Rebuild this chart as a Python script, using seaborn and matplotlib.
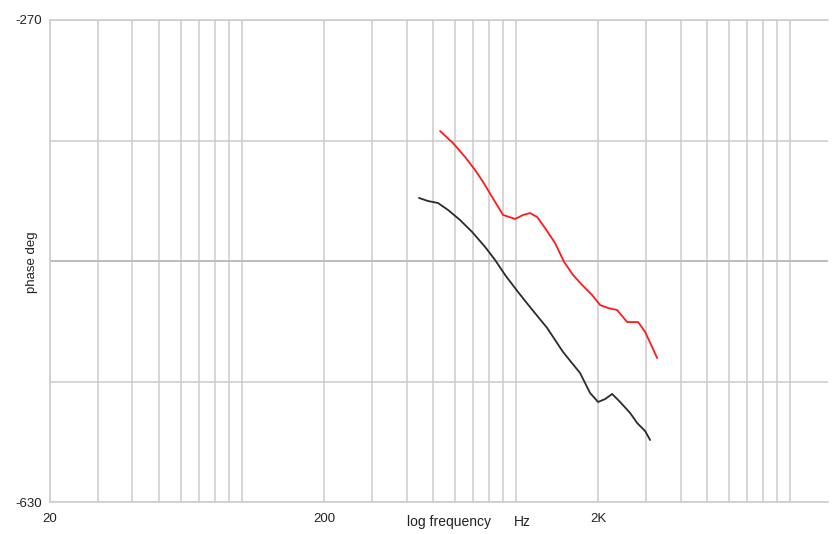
import matplotlib
matplotlib.use("Agg")
import matplotlib.pyplot as plt
import seaborn as sns
import pandas as pd
import numpy as np

# ---- data ----
red_freq = [530, 591, 654, 711, 761, 821, 900, 996, 1065, 1129, 1198, 1281, 1393,
            1503, 1621, 1749, 1902, 2034, 2175, 2346, 2552, 2800, 2969, 3148, 3284]
red_phase = [-352.9, -361.9, -372.3, -382.0, -391.0, -402.2, -415.6, -418.6, -415.6,
             -414.2, -417.1, -425.4, -436.6, -450.7, -460.5, -467.9, -475.4, -482.9,
             -485.1, -486.6, -495.6, -495.6, -503.0, -514.2, -522.5]

black_freq = [444, 479, 521, 567, 627, 694, 774, 842, 916, 1021, 1129, 1303, 1490,
              1719, 1870, 2000, 2122, 2250, 2406, 2617, 2776, 2969, 3096]
black_phase = [-402.9, -405.2, -406.7, -411.9, -419.4, -428.3, -439.5, -449.3, -460.5,
               -473.2, -484.4, -500.0, -518.0, -533.7, -548.6, -555.3, -553.1, -549.3,
               -555.3, -563.5, -571.0, -577.0, -583.7]

y_ticks = [-630, -540, -450, -360, -270]
y_tick_labels = ["-630", "", "", "", "-270"]
x_major = [20, 200, 2000]
x_major_labels = ["20", "200", "2K"]
x_minor = [30, 40, 50, 60, 70, 80, 90, 100,
           300, 400, 500, 600, 700, 800, 900, 1000,
           3000, 4000, 5000, 6000, 7000, 8000, 9000, 10000]

df = pd.concat([
    pd.DataFrame({"freq": red_freq, "phase": red_phase, "series": "red"}),
    pd.DataFrame({"freq": black_freq, "phase": black_phase, "series": "black"}),
], ignore_index=True)

sns.set_theme(style="white")
plt.rcParams["font.family"] = ["Liberation Sans", "DejaVu Sans"]

fig = plt.figure(figsize=(8.34, 5.34), dpi=100)
ax = fig.add_axes([50 / 834, 1 - 502 / 534, 778 / 834, 482 / 534])

grid_c = "#cbcbcb"
ax.set_xscale("log")
ax.set_xlim(20, 13800)
ax.set_ylim(-630, -270)

ax.set_xticks(x_major)
ax.set_xticklabels(x_major_labels)
ax.set_xticks(x_minor, minor=True)
ax.xaxis.set_minor_formatter(matplotlib.ticker.NullFormatter())
ax.set_yticks(y_ticks)
ax.set_yticklabels(y_tick_labels)

ax.grid(True, which="both", axis="x", color=grid_c, lw=1.1)
ax.grid(True, which="major", axis="y", color=grid_c, lw=1.1)
# the middle horizontal line is drawn a little darker in the reference
for gl, val in zip(ax.get_ygridlines(), y_ticks):
    if val == -450:
        gl.set_color("#b8b8b8")
        gl.set_linewidth(1.3)
ax.tick_params(axis="both", which="both", length=0, labelsize=9.5, colors="#222222")
ax.tick_params(axis="x", pad=8)
ax.tick_params(axis="y", pad=6)

for s in ["left", "bottom", "top"]:
    ax.spines[s].set_color(grid_c)
    ax.spines[s].set_linewidth(1.1)
ax.spines["right"].set_visible(False)

sns.lineplot(data=df, x="freq", y="phase", hue="series",
             palette={"red": "#ff1a1a", "black": "#2a2a2a"},
             sort=False, estimator=None, lw=1.3, legend=False, ax=ax)
ax.set_xlabel("")
ax.set_ylabel("")

fig.text(449 / 834, 1 - 522 / 534, "log frequency", ha="center", va="center",
         fontsize=10, color="#222222")
fig.text(522 / 834, 1 - 522 / 534, "Hz", ha="center", va="center",
         fontsize=10, color="#222222")
fig.text(32 / 834, 1 - 262 / 534, "phase deg", ha="center", va="center",
         rotation=90, fontsize=9.5, color="#222222")

fig.savefig("out.png", dpi=100, facecolor="white")
